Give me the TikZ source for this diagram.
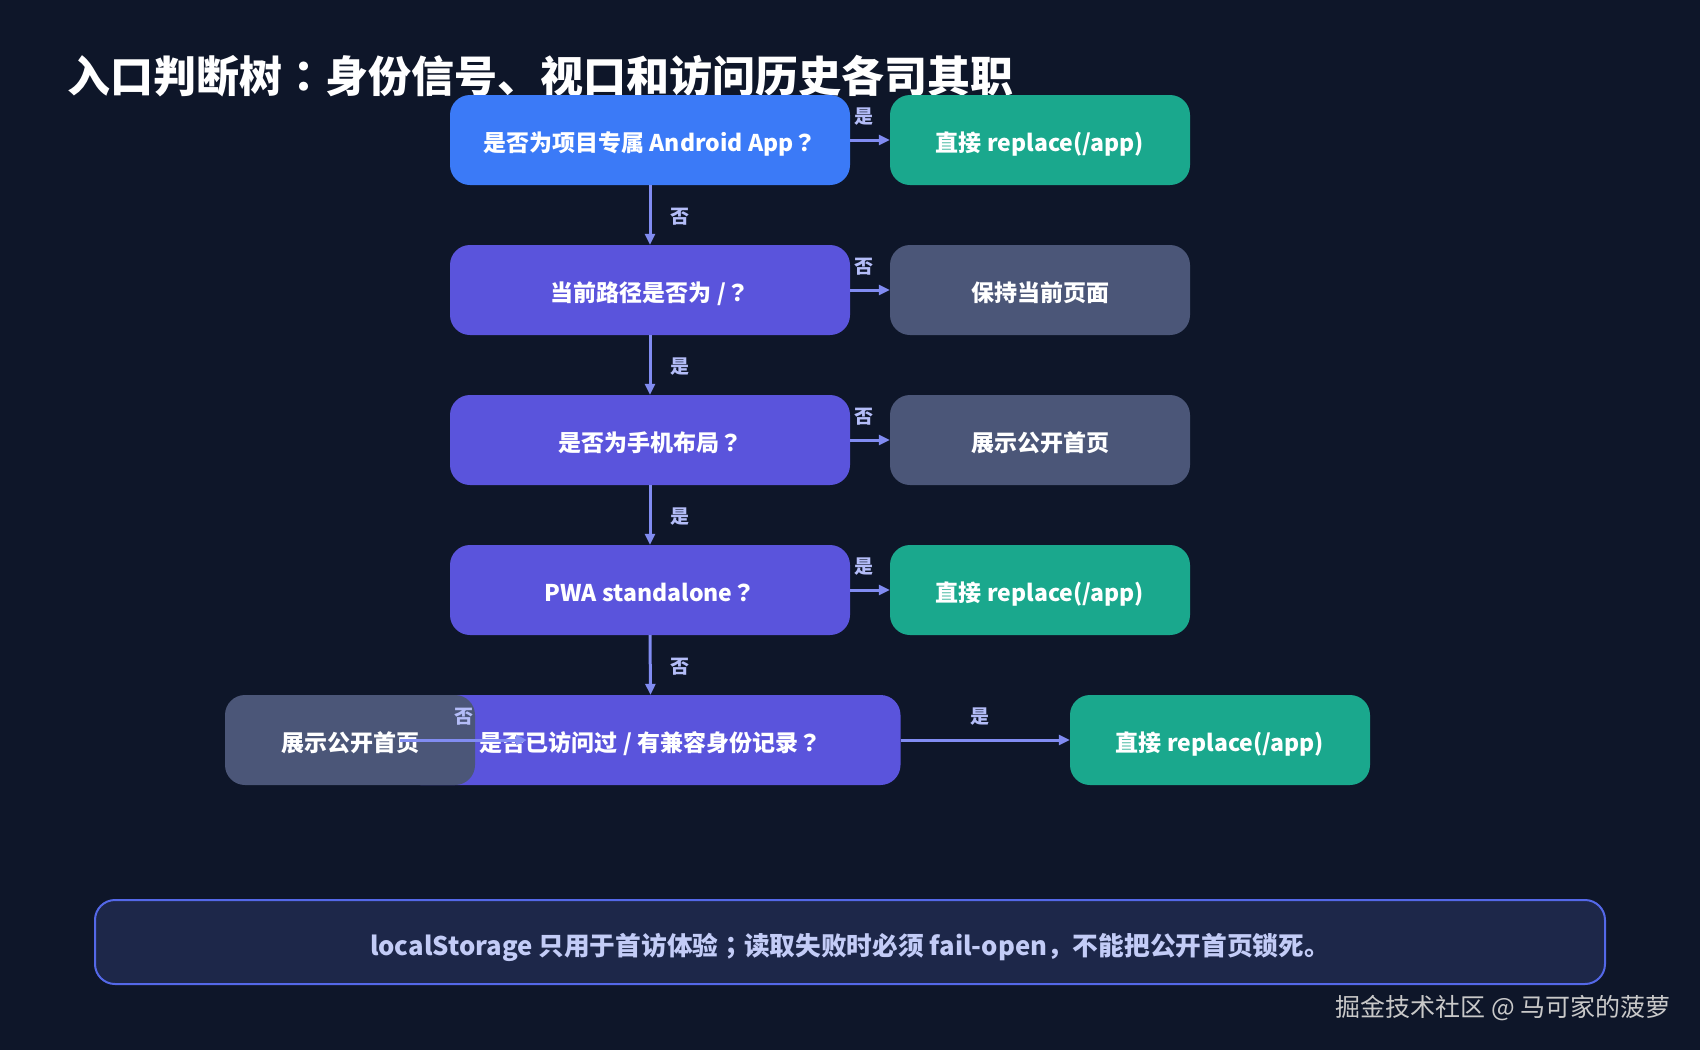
\documentclass[tikz,border=0pt]{standalone}
\usepackage{fontspec}
\setmainfont{Noto Sans CJK SC}
\newfontfamily\jpf{Noto Sans CJK JP}
\newcommand{\qm}{{\jpf ？}}
\newcommand{\cm}{{\jpf ：}}
\newcommand{\sm}{{\jpf ；}}
\usetikzlibrary{arrows.meta}
\definecolor{bgc}{HTML}{0E1629}
\definecolor{bluec}{HTML}{3B7AF7}
\definecolor{purplec}{HTML}{5A54DC}
\definecolor{grayc}{HTML}{4B5678}
\definecolor{greenc}{HTML}{1AA88D}
\definecolor{arrc}{HTML}{818CF2}
\definecolor{lblc}{HTML}{B4BDF8}
\definecolor{notefill}{HTML}{1D2749}
\definecolor{noteborder}{HTML}{5468E8}
\definecolor{notetext}{HTML}{C3CCF7}
\definecolor{wmc}{HTML}{C9C9C9}
\tikzset{
  box/.style={rectangle, rounded corners=20pt, minimum height=90pt, text=white,
    font=\fontsize{23}{27}\selectfont\bfseries, inner sep=0pt, text height=23pt, text depth=0pt},
  qbox/.style={box, fill=purplec, minimum width=400pt},
  okbox/.style={box, fill=greenc, minimum width=300pt},
  stbox/.style={box, fill=grayc, minimum width=300pt},
  arr/.style={draw=arrc, line width=3pt, -{Triangle[length=11pt,width=10pt]}},
  lbl/.style={text=lblc, font=\fontsize{19}{22}\selectfont\bfseries, inner sep=0pt},
}
\begin{document}
\begin{tikzpicture}[x=1pt,y=-1pt]
\fill[bgc] (0,0) rectangle (1700,1050);
\useasboundingbox (0,0) rectangle (1700,1050);

\node[anchor=west, text=white, font=\fontsize{43}{48}\selectfont\bfseries, inner sep=0pt] (title) at (67,76) {入口判断树\cm 身份信号、视口和访问历史各司其职};

% row 1
\node[qbox, fill=bluec] (b1) at (650,140) {是否为项目专属 Android App\qm};
\node[okbox] (g1) at (1040,140) {直接 replace(/app)};
% row 2
\node[qbox] (b2) at (650,290) {当前路径是否为 /\qm};
\node[stbox] (k2) at (1040,290) {保持当前页面};
% row 3
\node[qbox] (b3) at (650,440) {是否为手机布局\qm};
\node[stbox] (k3) at (1040,440) {展示公开首页};
% row 4
\node[qbox] (b4) at (650,590) {PWA standalone\qm};
\node[okbox] (g4) at (1040,590) {直接 replace(/app)};
% row 5
\node[qbox, minimum width=500pt] (b5) at (650.5,740) {是否已访问过 / 有兼容身份记录\qm};
\node[stbox, minimum width=250pt] (k5) at (350,740) {展示公开首页};
\node[okbox] (g5) at (1220,740) {直接 replace(/app)};
\coordinate (k5tip) at (527,740);

% horizontal arrows
\draw[arr] (b1.east) -- (g1.west);
\node[lbl] (l1) at (864,117) {是};
\draw[arr] (b2.east) -- (k2.west);
\node[lbl] (l2) at (864,267) {否};
\draw[arr] (b3.east) -- (k3.west);
\node[lbl] (l3) at (864,417) {否};
\draw[arr] (b4.east) -- (g4.west);
\node[lbl] (l4) at (864,567) {是};
\draw[arr] (b5.east) -- (g5.west);
\node[lbl] (l5) at (980,717) {是};
\draw[arr] (b5.west) -- (k5tip);
\node[lbl] (l6) at (464,717) {否};

% vertical arrows
\draw[arr] (b1.south) -- (b2.north);
\node[lbl] (v1) at (680,217) {否};
\draw[arr] (b2.south) -- (b3.north);
\node[lbl] (v2) at (680,367) {是};
\draw[arr] (b3.south) -- (b4.north);
\node[lbl] (v3) at (680,517) {是};
\draw[arr] (b4.south) -- (b5.north);
\node[lbl] (v4) at (680,667) {否};

% note
\node[rectangle, rounded corners=20pt, fill=notefill, draw=noteborder, line width=2pt,
  minimum width=1510pt, minimum height=84pt, text=notetext,
  font=\fontsize{25.7}{30}\selectfont\bfseries, inner sep=0pt, text height=26pt, text depth=0pt] (note) at (850,942)
  {localStorage 只用于首访体验\sm 读取失败时必须 fail-open，不能把公开首页锁死。};

\node[anchor=east, text=wmc, font=\fontsize{25}{29}\selectfont, inner sep=0pt] (wm) at (1671,1008) {掘金技术社区 @ 马可家的菠萝};
\end{tikzpicture}
\end{document}
